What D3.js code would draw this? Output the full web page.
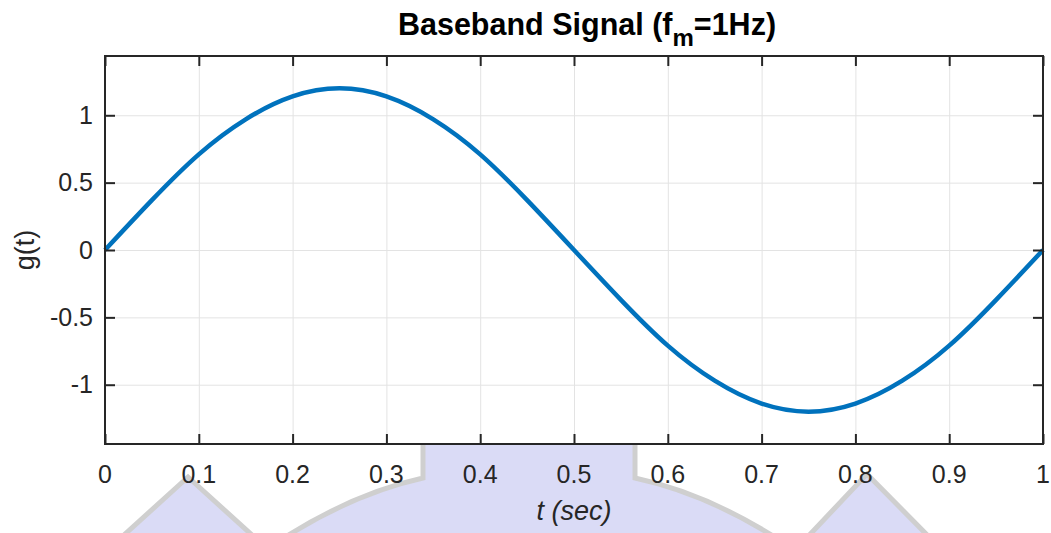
<!DOCTYPE html>
<html>
<head>
<meta charset="utf-8">
<script src="https://cdn.jsdelivr.net/npm/d3@7"></script>
<style>
  body { margin: 0; background: #fff; }
  svg { display: block; font-family: "Liberation Sans", Arial, sans-serif; }
  .tick-label { fill: #262626; font-size: 25px; }
</style>
</head>
<body>
<div id="chart"></div>
<script>
// sample times (sec) and g(t) values
const tValues = [0, 0.05, 0.1, 0.15, 0.2, 0.25, 0.3, 0.35, 0.4, 0.45, 0.5,
                 0.55, 0.6, 0.65, 0.7, 0.75, 0.8, 0.85, 0.9, 0.95, 1];
const gValues = [0, 0.37, 0.71, 0.97, 1.14, 1.2, 1.14, 0.97, 0.71, 0.37, 0,
                 -0.37, -0.71, -0.97, -1.14, -1.2, -1.14, -0.97, -0.71, -0.37, 0];
const xTicks = [0, 0.1, 0.2, 0.3, 0.4, 0.5, 0.6, 0.7, 0.8, 0.9, 1];
const yTicks = [-1, -0.5, 0, 0.5, 1];
const xDomain = [0, 1];
const yDomain = [-1.44, 1.44];

const width = 1051, height = 533;
const margin = { top: 56, right: 8, bottom: 89, left: 105 };
const tickLen = 10;

const svg = d3.select("#chart").append("svg")
  .attr("width", width)
  .attr("height", height);

// faint watermark behind the figure
const wm = svg.append("g")
  .attr("fill", "#dadbf6")
  .attr("stroke", "#cfcfcf")
  .attr("stroke-width", 5)
  .attr("stroke-linejoin", "miter");
wm.append("path").attr("d", "M113,545 L188,477 L263,545 Z");
wm.append("path").attr("d", "M800,545 L867,474 L937,545 Z");
wm.append("path").attr("d", "M273,545 Q350,494 423,478 L423,440 L635,440 L635,478 Q710,494 787,545 Z");

const xScale = d3.scaleLinear()
  .domain(xDomain)
  .range([margin.left, width - margin.right]);

const yScale = d3.scaleLinear()
  .domain(yDomain)
  .range([height - margin.bottom, margin.top]);

const x0 = xScale.range()[0], x1 = xScale.range()[1];
const y0 = yScale.range()[0], y1 = yScale.range()[1];

// axes background
svg.append("rect")
  .attr("x", x0).attr("y", y1)
  .attr("width", x1 - x0).attr("height", y0 - y1)
  .attr("fill", "#fff");

// gridlines
svg.append("g")
  .attr("class", "grid")
  .attr("transform", `translate(0,${y1})`)
  .call(d3.axisBottom(xScale).tickValues(xTicks).tickFormat("").tickSize(y0 - y1))
  .call(g => g.select(".domain").remove())
  .call(g => g.selectAll("line").attr("stroke", "#e3e3e3").attr("stroke-width", 1));

svg.append("g")
  .attr("class", "grid")
  .attr("transform", `translate(${x0},0)`)
  .call(d3.axisRight(yScale).tickValues(yTicks).tickFormat("").tickSize(x1 - x0))
  .call(g => g.select(".domain").remove())
  .call(g => g.selectAll("line").attr("stroke", "#e3e3e3").attr("stroke-width", 1));

// signal
const line = d3.line()
  .x((d, i) => xScale(tValues[i]))
  .y(d => yScale(d))
  .curve(d3.curveNatural);

svg.append("path")
  .datum(gValues)
  .attr("fill", "none")
  .attr("stroke", "#0072bd")
  .attr("stroke-width", 4.5)
  .attr("stroke-linejoin", "round")
  .attr("d", line);

// box + inward ticks on all four sides
const axisColor = "#262626";
function styleAxis(g) {
  g.select(".domain").remove();
  g.selectAll("line").attr("stroke", axisColor).attr("stroke-width", 2);
}

svg.append("g")
  .attr("transform", `translate(0,${y0})`)
  .call(d3.axisTop(xScale).tickValues(xTicks).tickSize(tickLen).tickFormat(""))
  .call(styleAxis);

svg.append("g")
  .attr("transform", `translate(0,${y1})`)
  .call(d3.axisBottom(xScale).tickValues(xTicks).tickSize(tickLen).tickFormat(""))
  .call(styleAxis);

svg.append("g")
  .attr("transform", `translate(${x0},0)`)
  .call(d3.axisRight(yScale).tickValues(yTicks).tickSize(tickLen).tickFormat(""))
  .call(styleAxis);

svg.append("g")
  .attr("transform", `translate(${x1},0)`)
  .call(d3.axisLeft(yScale).tickValues(yTicks).tickSize(tickLen).tickFormat(""))
  .call(styleAxis);

svg.append("rect")
  .attr("x", x0).attr("y", y1)
  .attr("width", x1 - x0).attr("height", y0 - y1)
  .attr("fill", "none")
  .attr("stroke", axisColor)
  .attr("stroke-width", 2);

// tick labels (plain hyphen for negatives, like the original)
const fmt = d => String(d);

svg.append("g")
  .selectAll("text")
  .data(xTicks)
  .join("text")
  .attr("class", "tick-label")
  .attr("x", d => xScale(d))
  .attr("y", y0 + 39)
  .attr("text-anchor", "middle")
  .text(fmt);

svg.append("g")
  .selectAll("text")
  .data(yTicks)
  .join("text")
  .attr("class", "tick-label")
  .attr("x", x0 - 12)
  .attr("y", d => yScale(d))
  .attr("dy", "0.35em")
  .attr("text-anchor", "end")
  .text(fmt);

// axis labels
svg.append("text")
  .attr("x", (x0 + x1) / 2)
  .attr("y", 520)
  .attr("text-anchor", "middle")
  .attr("font-size", 27)
  .attr("font-style", "italic")
  .attr("fill", "#262626")
  .text("t (sec)");

svg.append("text")
  .attr("transform", `translate(34,${yScale(0)}) rotate(-90)`)
  .attr("text-anchor", "middle")
  .attr("font-size", 27)
  .attr("fill", "#262626")
  .text("g(t)");

// title with subscript
const title = svg.append("text")
  .attr("x", (x0 + x1) / 2 + 13)
  .attr("y", 35)
  .attr("text-anchor", "middle")
  .attr("font-size", 30.5)
  .attr("font-weight", "bold")
  .attr("fill", "#000");
title.append("tspan").text("Baseband Signal (f");
title.append("tspan").attr("font-size", 24).attr("dy", 11).text("m");
title.append("tspan").attr("dy", -11).text("=1Hz)");
</script>
</body>
</html>
